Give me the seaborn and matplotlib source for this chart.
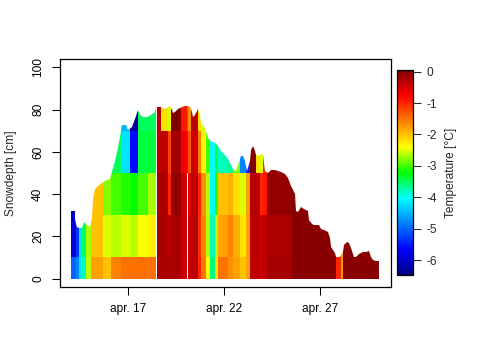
import numpy as np
import matplotlib
matplotlib.use("Agg")
import matplotlib.pyplot as plt
from matplotlib.colors import LinearSegmentedColormap
import seaborn as sns

# ---------------- data ----------------
# snow depth series (day of April, cm)
depth_days = [14.02, 14.19, 14.22, 14.26, 14.31, 14.40, 14.57, 14.66, 14.83, 15.01,
              15.09, 15.13, 15.27, 15.44, 15.61, 15.79, 16.05, 16.22, 16.31, 16.48,
              16.65, 16.86, 17.00, 17.17, 17.35, 17.52, 17.61, 17.78, 18.04, 18.39,
              18.47, 18.73, 18.91, 19.08, 19.17, 19.26, 19.34, 19.43, 19.60, 19.78,
              19.95, 20.13, 20.21, 20.30, 20.39, 20.47, 20.65, 20.73, 20.82, 20.99,
              21.17, 21.34, 21.52, 21.69, 21.86, 22.04, 22.21, 22.38, 22.47, 22.64,
              22.73, 22.90, 22.99, 23.11, 23.21, 23.34, 23.42, 23.51, 23.60, 23.68,
              23.86, 23.94, 24.03, 24.12, 24.29, 24.46, 24.64, 24.81, 24.98, 25.16,
              25.33, 25.51, 25.68, 25.77, 25.85, 26.03, 26.20, 26.38, 26.46, 26.58,
              26.72, 26.98, 27.07, 27.24, 27.42, 27.51, 27.59, 27.77, 27.85, 28.03,
              28.11, 28.20, 28.29, 28.42, 28.55, 28.63, 28.81, 28.89, 29.07, 29.24,
              29.41, 29.55, 29.67, 29.76, 29.93, 30.11]
depth_cm = [32.2, 32.2, 28.0, 26.0, 24.4, 23.8, 23.8, 26.8, 25.2, 24.4,
            28.5, 37.0, 42.5, 44.0, 45.5, 46.3, 47.2, 52.5, 55.6, 61.8,
            72.8, 72.8, 70.5, 72.0, 75.8, 79.8, 77.4, 76.6, 76.6, 79.0,
            81.3, 81.3, 80.5, 81.3, 81.6, 79.8, 78.2, 79.0, 80.5, 81.3,
            81.6, 81.6, 81.3, 79.0, 76.6, 77.4, 80.5, 78.0, 73.5, 71.2,
            66.5, 65.0, 64.2, 62.6, 60.3, 58.7, 56.4, 54.0, 51.7, 51.0,
            54.0, 58.0, 58.0, 55.6, 51.0, 55.6, 61.0, 62.6, 60.3, 58.7,
            58.0, 59.5, 58.5, 51.0, 50.2, 51.3, 51.3, 50.9, 50.5, 49.4,
            47.8, 44.0, 40.0, 32.2, 31.5, 33.8, 33.0, 32.2, 27.6, 25.7,
            25.2, 25.2, 23.7, 22.9, 22.1, 19.0, 15.0, 12.0, 10.4, 10.1,
            11.2, 12.8, 15.9, 17.4, 17.0, 14.3, 10.4, 10.1, 11.7, 12.5,
            12.5, 13.1, 10.4, 8.9, 8.1, 8.1]

# temperature profile: time segments x depth layers
seg_edges = [14.02, 14.24, 14.40, 14.55, 14.81, 15.07, 15.70, 16.11, 16.64, 17.10,
             17.52, 18.04, 18.44, 18.49, 18.72, 19.08, 19.24, 19.76, 20.05, 20.10,
             20.28, 20.65, 20.80, 21.06, 21.27, 21.53, 21.69, 22.21, 22.47, 22.83,
             23.15, 23.35, 23.67, 23.88, 24.03, 24.24, 25.54, 27.83, 28.09, 28.20,
             30.13]
layer_edges = [0, 10, 30, 50, 70, 90]
nan = float("nan")
temp_0_10 = [-5.0, -4.8, -4.2, -3.8, -2.6, -1.8, -2.0, -1.6, -1.5, -1.5,
             -1.5, -1.5, nan, -0.2, -0.25, -0.25, -0.25, -0.45, nan, -0.45,
             -0.35, -1.0, -1.5, -2.4, -3.6, -2.2, -1.5, -1.7, -1.8, -2.0,
             -1.8, -0.35, -0.35, -0.45, -0.35, -0.2, -0.02, -1.0, -1.8, -0.02]
temp_10_30 = [-5.9, -5.3, -4.2, -3.5, -2.7, -2.0, -2.5, -2.6, -2.5, -2.6,
              -2.4, -2.3, nan, -0.2, -0.25, -0.35, -0.25, -0.45, nan, -0.45,
              -0.35, -1.1, -1.6, -2.6, -3.8, -2.6, -1.8, -1.6, -1.9, -2.2,
              -1.8, -0.35, -0.35, -0.45, -0.35, -0.25, -0.02, -1.0, -1.8, -0.02]
temp_30_50 = [-6.1, -5.3, -4.2, -3.5, -2.7, -2.0, -2.8, -3.0, -3.1, -3.2,
              -3.0, -2.7, nan, -0.2, -0.25, -1.0, -0.1, -0.45, nan, -0.6,
              -0.35, -1.0, -1.7, -2.6, -4.0, -3.1, -2.0, -1.9, -2.2, -2.5,
              -1.8, -0.3, -0.35, -1.0, -0.9, -0.08, -0.02, -1.0, -1.8, -0.02]
temp_50_70 = [-6.1, -5.3, -4.2, -3.5, -2.7, -2.0, -2.8, -3.5, -4.2, -5.6,
              -3.4, -3.4, nan, -0.35, -0.35, -1.2, -0.2, -0.7, -0.8, -1.3,
              -0.45, -1.6, -2.3, -3.0, -4.0, -3.5, -3.8, -3.7, -2.8, -4.8,
              -5.4, 0.0, -2.2, -2.5, -1.0, -0.08, -0.02, -1.0, -1.8, -0.02]
temp_70_90 = [-6.1, -5.3, -4.2, -3.5, -2.7, -2.0, -2.8, -3.7, -4.5, -6.3,
              -3.5, -3.5, nan, -0.3, -2.2, -2.5, 0.0, -0.9, -1.3, -1.7,
              -0.35, -2.2, -2.5, -3.0, -4.0, -3.5, -3.8, -3.7, -2.8, -4.8,
              -5.4, 0.0, -2.2, -2.5, -1.0, -0.08, -0.02, -1.0, -1.8, -0.02]

y_ticks = [0, 20, 40, 60, 80, 100]
x_tick_days = [17, 22, 27]
x_tick_labels = ["apr. 17", "apr. 22", "apr. 27"]
cbar_ticks = [0, -1, -2, -3, -4, -5, -6]
cbar_tick_labels = ["0", "-1", "-2", "-3", "-4", "-5", "-6"]

# ---------------- style ----------------
sns.set_style("white")
plt.rcParams['font.family'] = ['Liberation Sans', 'DejaVu Sans']
plt.rcParams['font.size'] = 8.6

ramp = LinearSegmentedColormap.from_list(
    "tim", [(0.0, "#000080"), (0.125, "#0000FF"), (0.375, "#00FFFF"),
            (0.5, "#00FF00"), (0.625, "#FFFF00"), (0.875, "#FF0000"),
            (1.0, "#800000")])

fig = plt.figure(figsize=(4.8, 3.6), dpi=100)
ax = fig.add_axes([60 / 480, 1 - 287 / 360, 331 / 480, 228 / 360])

temps = np.array([temp_0_10, temp_10_30, temp_30_50, temp_50_70, temp_70_90], dtype=float)
temps = np.ma.masked_invalid(temps)
mesh = ax.pcolormesh(seg_edges, layer_edges, temps, cmap=ramp,
                     vmin=-6.47, vmax=0.05, shading="flat", linewidth=0,
                     antialiased=False)

# clip the profile to the snow surface
surface = ax.fill_between(depth_days, 0, depth_cm, facecolor="none", edgecolor="none")
mesh.set_clip_path(surface.get_paths()[0], ax.transData)

ax.set_xlim(13.43, 30.72)
ax.set_ylim(-4, 104)
ax.set_xticks(x_tick_days)
ax.set_xticklabels(x_tick_labels)
ax.set_yticks(y_ticks)
ax.set_yticklabels([str(v) for v in y_ticks], rotation=90, va="center")
ax.tick_params(axis="both", direction="out", length=5.5, width=0.75,
               color="black", labelsize=8.6, labelcolor="black", bottom=True, left=True)
ax.tick_params(axis="x", pad=6)
ax.tick_params(axis="y", pad=6)
for sp in ax.spines.values():
    sp.set_visible(True)
    sp.set_color("black")
    sp.set_linewidth(0.9)
ax.set_ylabel("Snowdepth [cm]", fontsize=8.6, labelpad=11)
ax.set_xlabel("")

# colour bar
cax = fig.add_axes([397 / 480, 1 - 275 / 360, 16 / 480, 205 / 360])
cb = fig.colorbar(mesh, cax=cax)
cb.set_ticks(cbar_ticks)
cb.set_ticklabels(cbar_tick_labels)
cb.ax.tick_params(direction="out", length=5.5, width=0.75, labelsize=8.6, pad=4)
cb.outline.set_edgecolor("black")
cb.outline.set_linewidth(0.9)
cb.set_label("Temperature [°C]", fontsize=8.6, labelpad=6)

fig.savefig("out.png", dpi=100, facecolor="white")
